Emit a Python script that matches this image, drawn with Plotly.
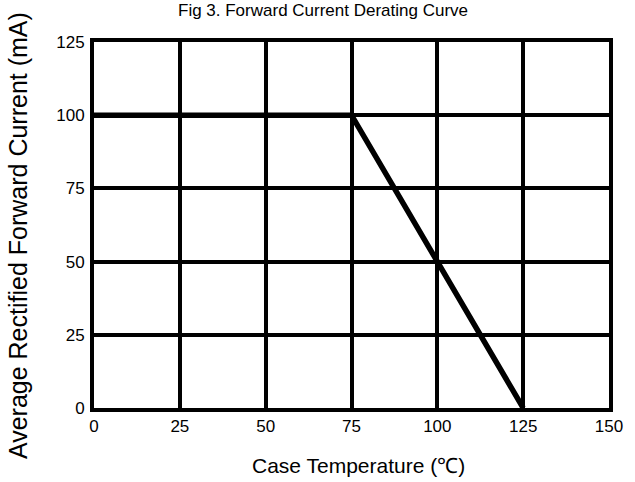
import plotly.graph_objects as go

# Data
temperature = [0, 75, 125]
current = [100, 100, 0]
x_ticks = [0, 25, 50, 75, 100, 125, 150]
y_ticks = [0, 25, 50, 75, 100, 125]

FONT = "Liberation Sans, Arial, sans-serif"

fig = go.Figure()
fig.add_trace(go.Scatter(
    x=temperature, y=current, mode="lines",
    line=dict(color="black", width=5.5),
    showlegend=False, hoverinfo="skip",
))

axis_common = dict(
    showgrid=True, gridcolor="black", gridwidth=4,
    showline=True, linecolor="black", linewidth=4, mirror=True,
    zeroline=False, ticks="", tickfont=dict(family=FONT, size=17, color="black"),
)

fig.update_xaxes(range=[0, 150], tickvals=x_ticks, ticktext=[str(v) for v in x_ticks],
                 ticklabelstandoff=0, **axis_common)
fig.update_yaxes(range=[0, 125], tickvals=y_ticks, ticktext=[str(v) for v in y_ticks],
                 ticklabelstandoff=2, **axis_common)

fig.add_annotation(text="Fig 3. Forward Current Derating Curve", xref="paper", yref="paper",
                   x=0.445, y=1.087, xanchor="center", yanchor="middle", showarrow=False,
                   font=dict(family=FONT, size=17, color="black"))
fig.add_annotation(text="Case Temperature (\u2103)", xref="paper", yref="paper",
                   x=0.514, y=-0.156, xanchor="center", yanchor="middle", showarrow=False,
                   font=dict(family=FONT, size=21, color="black"))
fig.add_annotation(text="Average Rectified Forward Current (mA)", xref="paper", yref="paper",
                   x=-0.1474, y=0.47, xanchor="center", yanchor="middle", showarrow=False,
                   textangle=-90, font=dict(family=FONT, size=25, color="black"))

fig.update_layout(
    width=635, height=482,
    margin=dict(l=94, r=12, t=42, b=74),
    paper_bgcolor="white", plot_bgcolor="white",
)

fig.write_html("out.html",
               config={"displayModeBar": False},
               post_script="document.body.style.margin='0px';document.body.style.overflow='hidden';")
